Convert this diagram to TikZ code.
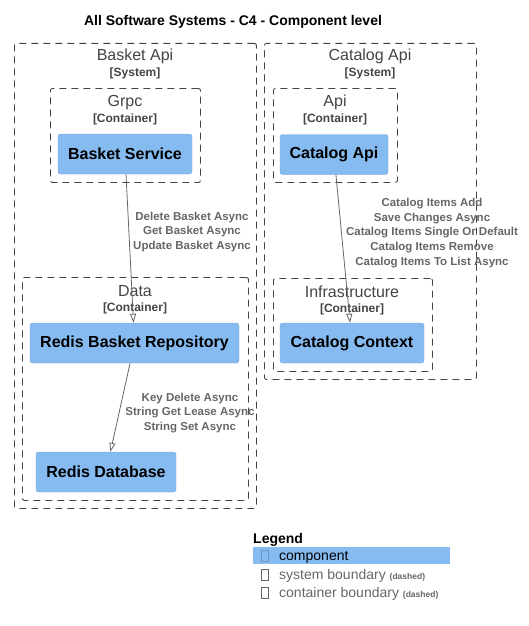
\documentclass[tikz,border=0pt]{standalone}
\usepackage{fontspec}
\setmainfont{Liberation Sans}
\usetikzlibrary{arrows.meta}
\definecolor{compblue}{HTML}{85BBF0}
\definecolor{boundgray}{HTML}{444444}
\definecolor{relgray}{HTML}{666666}
\tikzset{
  sysbound/.style={draw=boundgray, line width=0.9pt, dash pattern=on 7pt off 5pt, rounded corners=2pt, anchor=north west, inner sep=0pt},
  contbound/.style={sysbound},
  btitle/.style={text=boundgray, font=\fontsize{16}{19}\selectfont, inner sep=0pt, yshift=-1.5pt},
  btype/.style={text=boundgray, font=\bfseries\fontsize{12}{14}\selectfont, inner sep=0pt, yshift=-1pt},
  comp/.style={fill=compblue, draw=compblue!90!black, rounded corners=2.5pt, minimum height=40pt, font=\bfseries\fontsize{16}{19}\selectfont, inner sep=0pt},
  rel/.style={draw=relgray, line width=0.8pt, -{Triangle[open, length=9pt, width=6pt]}},
  reltext/.style={text=relgray, align=center, font=\bfseries\fontsize{11.5}{14.8}\selectfont, inner sep=0pt, yshift=-1pt},
  legtext/.style={anchor=west, inner sep=0pt, font=\fontsize{14}{16}\selectfont, yshift=-1pt},
  glyphbox/.style={draw=relgray, line width=0.6pt, minimum width=7pt, minimum height=11pt, inner sep=0pt}
}
\begin{document}
\begin{tikzpicture}[x=1pt, y=-1pt]
\useasboundingbox (0,0) rectangle (528,626);
\node[font=\bfseries\fontsize{14}{16}\selectfont, inner sep=0pt] (title) at (233,21.5) {All Software Systems - C4 - Component level};
% Basket Api system
\node[sysbound, minimum width=242pt, minimum height=465pt] (basketApi) at (14,43) {};
\node[btitle] (basketApiName) at (135,55) {Basket Api};
\node[btype] (basketApiType) at (135,72) {[System]};
\node[contbound, minimum width=150pt, minimum height=94pt] (grpc) at (50,88) {};
\node[btitle] (grpcName) at (125,101) {Grpc};
\node[btype] (grpcType) at (125,118) {[Container]};
\node[comp, minimum width=134pt] (basketService) at (125,154) {Basket Service};
\node[contbound, minimum width=226pt, minimum height=223pt] (data) at (22,277) {};
\node[btitle] (dataName) at (135,290) {Data};
\node[btype] (dataType) at (135,307) {[Container]};
\node[comp, minimum width=209pt] (redisRepo) at (134.5,343) {Redis Basket Repository};
\node[comp, minimum width=140pt] (redisDb) at (106,472) {Redis Database};
% Catalog Api system
\node[sysbound, minimum width=212pt, minimum height=336pt] (catalogApi) at (264,43) {};
\node[btitle] (catalogApiName) at (370,55) {Catalog Api};
\node[btype] (catalogApiType) at (370,72) {[System]};
\node[contbound, minimum width=124pt, minimum height=94pt] (api) at (273,88) {};
\node[btitle] (apiName) at (335,101) {Api};
\node[btype] (apiType) at (335,118) {[Container]};
\node[comp, minimum width=108pt] (catalogApiComp) at (334,154.5) {Catalog Api};
\node[contbound, minimum width=159pt, minimum height=93pt] (infra) at (273,278) {};
\node[btitle] (infraName) at (352,290) {Infrastructure};
\node[btype] (infraType) at (352,308) {[Container]};
\node[comp, minimum width=144pt] (catalogContext) at (352,343) {Catalog Context};
% relations
\draw[rel] (basketService) -- (redisRepo);
\node[reltext] (basketRel) at (192,231) {Delete Basket Async\\Get Basket Async\\Update Basket Async};
\draw[rel] (redisRepo) -- (redisDb);
\node[reltext] (redisRel) at (190,412) {Key Delete Async\\String Get Lease Async\\String Set Async};
\draw[rel] (catalogApiComp) -- (catalogContext);
\node[reltext] (catalogRel) at (432,232) {Catalog Items Add\\Save Changes Async\\Catalog Items Single Or Default\\Catalog Items Remove\\Catalog Items To List Async};
% legend
\node[anchor=west, inner sep=0pt, font=\bfseries\fontsize{14}{16}\selectfont] (legend) at (253,540) {Legend};
\fill[compblue] (253,547) rectangle (450,564);
\node[glyphbox, draw=compblue!80!black] (compGlyph) at (264.5,556) {};
\node[legtext] (compText) at (279,556) {component};
\node[glyphbox] (sysGlyph) at (264.5,575) {};
\node[legtext, text=relgray] (sysText) at (279,575) {system boundary \textbf{\fontsize{8.5}{10}\selectfont(dashed)}};
\node[glyphbox] (contGlyph) at (264.5,593) {};
\node[legtext, text=relgray] (contText) at (279,593) {container boundary \textbf{\fontsize{8.5}{10}\selectfont(dashed)}};
\end{tikzpicture}
\end{document}
